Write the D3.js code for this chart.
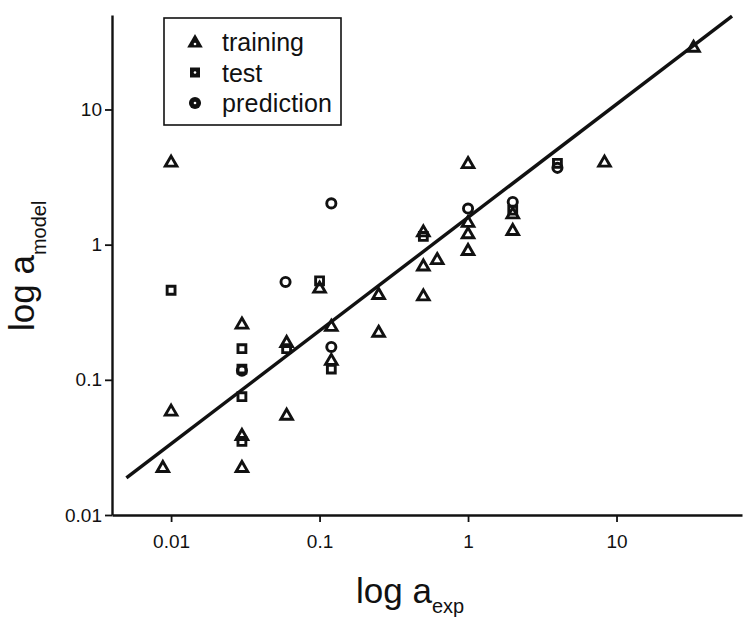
<!DOCTYPE html>
<html>
<head>
<meta charset="utf-8">
<script src="https://cdn.jsdelivr.net/npm/d3@7"></script>
<style>
  body { margin: 0; background: #fff; }
  svg text { font-family: "Liberation Sans", Arial, sans-serif; fill: #111; }
</style>
</head>
<body>
<div id="chart"></div>
<script>
// values (log-log scatter)
var trainX = [0.0088, 0.01, 0.01, 0.03, 0.03, 0.03, 0.06, 0.06, 0.1, 0.12, 0.12, 0.25, 0.25, 0.5, 0.5, 0.5, 0.62, 1, 1, 1, 1, 2, 2, 8.3, 33];
var trainY = [0.0226, 0.059, 4.1, 0.26, 0.039, 0.0226, 0.19, 0.055, 0.48, 0.25, 0.14, 0.43, 0.226, 1.25, 0.70, 0.42, 0.78, 4.0, 1.47, 1.21, 0.91, 1.7, 1.28, 4.1, 29];
var testX = [0.01, 0.03, 0.03, 0.03, 0.03, 0.06, 0.1, 0.12, 0.5, 2, 4];
var testY = [0.46, 0.17, 0.12, 0.075, 0.035, 0.17, 0.54, 0.12, 1.15, 1.8, 4.0];
var predX = [0.03, 0.059, 0.12, 0.12, 1, 2, 4];
var predY = [0.117, 0.53, 2.02, 0.175, 1.85, 2.07, 3.7];
var fitX = [0.005, 60];
var fitY = [0.0188, 49];
var xTicks = [0.01, 0.1, 1, 10];
var yTicks = [0.01, 0.1, 1, 10];
var legendNames = ["training", "test", "prediction"];

var width = 744, height = 617;
var svg = d3.select("#chart").append("svg")
    .attr("width", width)
    .attr("height", height);

var x = d3.scaleLog().domain([0.004, 70]).range([112, 742]);
var y = d3.scaleLog().domain([0.01, 50]).range([515, 15]);

var fmt = function(d) { return String(d); };

// minor ticks
var xMinor = x.ticks().filter(function(d) { return xTicks.indexOf(d) < 0; });
var yMinor = y.ticks().filter(function(d) { return yTicks.indexOf(d) < 0; });

var gx = svg.append("g").attr("transform", "translate(0," + y.range()[0] + ")");
gx.call(d3.axisBottom(x).tickValues(xMinor).tickFormat("").tickSize(4).tickSizeOuter(0));
gx.call(d3.axisBottom(x).tickValues(xTicks).tickFormat(fmt).tickSize(7).tickPadding(13).tickSizeOuter(0));

var gy = svg.append("g").attr("transform", "translate(" + x.range()[0] + ",0)");
gy.call(d3.axisLeft(y).tickValues(yMinor).tickFormat("").tickSize(4).tickSizeOuter(0));
gy.call(d3.axisLeft(y).tickValues(yTicks).tickFormat(fmt).tickSize(7).tickPadding(3).tickSizeOuter(0));

svg.selectAll(".domain").attr("stroke", "#111").attr("stroke-width", 2.4);
svg.selectAll(".tick line").attr("stroke", "#111").attr("stroke-width", 1.8);
svg.selectAll(".tick text").style("font-size", "19px").attr("fill", "#111");

// fitted line
var line = d3.line().x(function(d) { return x(d[0]); }).y(function(d) { return y(d[1]); });
svg.append("path")
    .datum(d3.zip(fitX, fitY))
    .attr("d", line)
    .attr("fill", "none")
    .attr("stroke", "#111")
    .attr("stroke-width", 3.4);

// markers
var tri = d3.symbol().type(d3.symbolTriangle).size(58);
var sq = d3.symbol().type(d3.symbolSquare).size(62);
var circ = d3.symbol().type(d3.symbolCircle).size(66);

function drawSet(xs, ys, sym, dy) {
  svg.append("g").selectAll("path")
    .data(d3.zip(xs, ys))
    .enter().append("path")
    .attr("d", sym)
    .attr("transform", function(d) { return "translate(" + x(d[0]) + "," + (y(d[1]) + dy) + ")"; })
    .attr("fill", "none")
    .attr("stroke", "#111")
    .attr("stroke-width", 2.9)
    .attr("stroke-linejoin", "miter");
}
drawSet(trainX, trainY, tri, 1);
drawSet(testX, testY, sq, 0);
drawSet(predX, predY, circ, 0);

// legend
var lg = svg.append("g");
lg.append("rect")
    .attr("x", 164).attr("y", 18)
    .attr("width", 177).attr("height", 107)
    .attr("fill", "#fff")
    .attr("stroke", "#111")
    .attr("stroke-width", 1.6);
var legendSyms = [
  d3.symbol().type(d3.symbolTriangle).size(105),
  d3.symbol().type(d3.symbolSquare).size(100),
  d3.symbol().type(d3.symbolCircle).size(115)
];
legendNames.forEach(function(n, i) {
  var cy = 42 + i * 30.5;
  lg.append("path")
    .attr("d", legendSyms[i])
    .attr("transform", "translate(195," + (cy + (i === 0 ? 1 : 0)) + ")")
    .attr("fill", "#111");
  lg.append("circle")
    .attr("cx", 195).attr("cy", cy + (i === 0 ? 2 : 0))
    .attr("r", 1.3).attr("fill", "#fff");
  lg.append("text")
    .attr("x", 222).attr("y", cy + 9)
    .style("font-size", "25px")
    .attr("textLength", i === 2 ? 110 : null)
    .text(n);
});

// axis titles
var xt = svg.append("text")
    .attr("x", 356).attr("y", 603)
    .style("font-size", "35px");
xt.append("tspan").text("log a");
xt.append("tspan").attr("dy", 10).style("font-size", "20px").text("exp");

var yt = svg.append("text")
    .attr("transform", "translate(34,331) rotate(-90)")
    .style("font-size", "35px");
yt.append("tspan").text("log a");
yt.append("tspan").attr("dy", 12).style("font-size", "20px").text("model");
</script>
</body>
</html>
